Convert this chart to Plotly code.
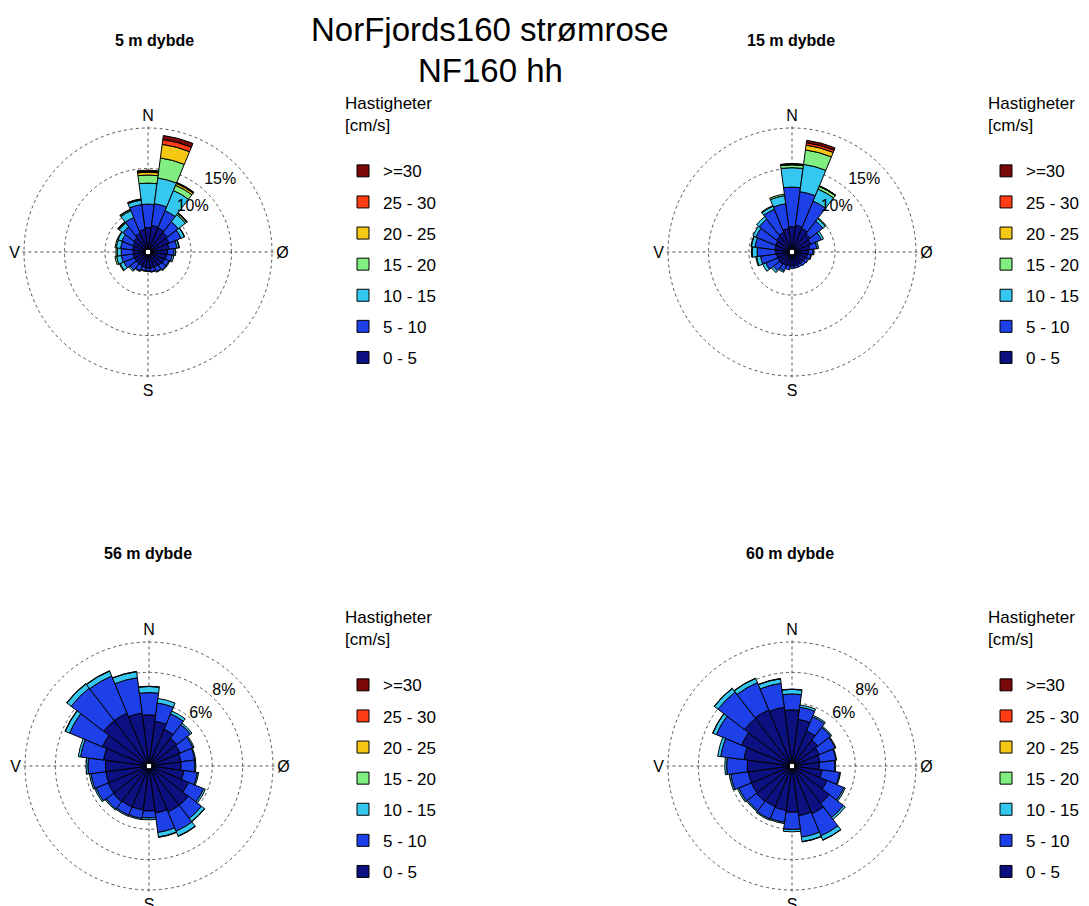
import plotly.graph_objects as go

# ---------------- data ----------------
directions = list(range(0, 360, 15))
speed_classes = ["0 - 5", "5 - 10", "10 - 15", "15 - 20", "20 - 25", "25 - 30", ">=30"]
class_colors = ["#0c1080", "#1e40e8", "#34c8f0", "#80ee80", "#f5c814", "#ff3c14", "#7a0808"]
dir_labels = ["N", "Ø", "S", "V"]
dir_label_angles = [0, 90, 180, 270]

# 5 m depth (percent per speed class and direction)
d05_0_5 = [2.7, 3.0, 2.9, 2.7, 2.5, 2.3, 2.1, 2.0, 1.9, 1.8, 1.7, 1.7, 1.7, 1.6, 1.5, 1.5, 1.5, 1.5, 1.5, 1.6, 1.7, 1.9, 2.2, 2.5]
d05_5_10 = [2.9, 2.7, 2.3, 1.7, 1.6, 1.0, 0.8, 0.7, 0.6, 0.7, 0.6, 0.45, 0.35, 0.4, 0.7, 1.0, 1.4, 1.5, 1.5, 1.5, 1.5, 1.7, 2.1, 3.1]
d05_10_15 = [2.6, 3.2, 2.7, 1.1, 0.45, 0.25, 0.2, 0.2, 0.1, 0.1, 0.1, 0.05, 0.05, 0.1, 0.1, 0.2, 0.5, 0.6, 0.5, 0.55, 0.5, 0.6, 0.9, 0.55]
d05_15_20 = [1.0, 2.5, 0.7, 0.2, 0.05, 0.05, 0, 0, 0, 0, 0, 0, 0, 0, 0, 0, 0.1, 0.2, 0.15, 0.15, 0.1, 0.1, 0.15, 0.1]
d05_20_25 = [0.35, 1.7, 0.25, 0.05, 0, 0, 0, 0, 0, 0, 0, 0, 0, 0, 0, 0, 0, 0, 0, 0, 0, 0.05, 0.05, 0.05]
d05_25_30 = [0.1, 0.6, 0.05, 0, 0, 0, 0, 0, 0, 0, 0, 0, 0, 0, 0, 0, 0, 0, 0, 0, 0, 0.05, 0, 0]
d05_30p = [0.15, 0.5, 0.1, 0.05, 0, 0, 0, 0, 0, 0, 0, 0, 0, 0, 0, 0, 0, 0, 0, 0, 0, 0, 0, 0]

# 15 m depth
d15_0_5 = [2.8, 3.0, 2.8, 2.5, 2.2, 1.9, 1.7, 1.6, 1.5, 1.4, 1.4, 1.4, 1.4, 1.4, 1.5, 1.6, 1.6, 1.6, 1.7, 1.8, 1.9, 2.1, 2.3, 2.6]
d15_5_10 = [4.9, 4.2, 3.7, 2.0, 1.4, 0.9, 0.6, 0.45, 0.4, 0.4, 0.3, 0.3, 0.3, 0.5, 0.7, 1.0, 1.6, 2.0, 2.3, 2.5, 2.6, 2.7, 3.1, 3.1]
d15_10_15 = [2.4, 3.4, 1.6, 0.4, 0.3, 0.2, 0.1, 0.05, 0, 0, 0, 0, 0, 0, 0.2, 0.3, 0.4, 0.5, 0.6, 0.45, 0.4, 0.4, 0.4, 1.0]
d15_15_20 = [0.35, 1.8, 0.35, 0.1, 0, 0, 0, 0, 0, 0, 0, 0, 0, 0, 0, 0, 0, 0.1, 0.1, 0.05, 0, 0, 0.1, 0.2]
d15_20_25 = [0.1, 0.6, 0.05, 0, 0, 0, 0, 0, 0, 0, 0, 0, 0, 0, 0, 0, 0, 0, 0, 0, 0, 0, 0, 0]
d15_25_30 = [0.03, 0.3, 0.02, 0, 0, 0, 0, 0, 0, 0, 0, 0, 0, 0, 0, 0, 0, 0, 0, 0, 0, 0, 0, 0]
d15_30p = [0.02, 0.3, 0.03, 0, 0, 0, 0, 0, 0, 0, 0, 0, 0, 0, 0, 0, 0, 0, 0, 0, 0, 0, 0, 0]

# 56 m depth
d56_0_5 = [3.2, 2.8, 2.45, 2.15, 2.05, 1.95, 1.95, 2.15, 2.65, 3.1, 3.1, 2.95, 2.8, 2.75, 2.75, 2.8, 2.75, 2.7, 2.7, 2.85, 3.15, 3.6, 3.6, 3.35]
d56_5_10 = [1.47, 1.22, 1.1, 1.13, 0.92, 0.92, 0.91, 0.9, 1.08, 1.09, 1.38, 1.3, 0.46, 0.57, 0.59, 0.6, 0.86, 0.99, 1.16, 1.53, 2.35, 2.7, 2.65, 2.35]
d56_10_15 = [0.4, 0.3, 0.2, 0.12, 0.08, 0.06, 0.06, 0.08, 0.12, 0.25, 0.35, 0.3, 0.12, 0.08, 0.08, 0.08, 0.1, 0.1, 0.12, 0.15, 0.3, 0.35, 0.35, 0.4]
d56_15_20 = [0.02, 0, 0, 0, 0, 0, 0, 0, 0, 0.02, 0.03, 0.03, 0, 0, 0, 0, 0, 0, 0, 0, 0.02, 0.03, 0.03, 0.02]
d56_20_25 = [0] * 24
d56_25_30 = [0] * 24
d56_30p = [0] * 24

# 60 m depth
d60_0_5 = [3.53, 2.93, 2.33, 1.98, 1.78, 1.68, 1.63, 1.83, 2.33, 2.93, 3.23, 3.13, 2.88, 2.78, 2.73, 2.78, 2.73, 2.73, 2.78, 3.03, 3.43, 3.78, 3.83, 3.73]
d60_5_10 = [1.05, 0.81, 1.02, 1.07, 1.13, 1.07, 1.03, 1.17, 1.2, 1.18, 1.58, 1.43, 1.14, 0.8, 0.89, 0.76, 0.89, 1.17, 1.36, 1.54, 1.8, 2.2, 1.95, 1.6]
d60_10_15 = [0.3, 0.15, 0.1, 0.08, 0.06, 0.05, 0.05, 0.06, 0.1, 0.15, 0.3, 0.3, 0.15, 0.08, 0.08, 0.08, 0.1, 0.1, 0.12, 0.2, 0.25, 0.3, 0.3, 0.3]
d60_15_20 = [0.02, 0, 0, 0, 0, 0, 0, 0, 0, 0, 0.02, 0.02, 0, 0, 0, 0, 0, 0, 0, 0, 0.02, 0.02, 0.02, 0.02]
d60_20_25 = [0] * 24
d60_25_30 = [0] * 24
d60_30p = [0] * 24

# ring values and their labels (percent)
rings_upper = [5, 10, 15]
rings_lower = [2, 4, 6, 8]
ring_labels_upper = ["15%", "10%"]
ring_label_r_upper = [12.3, 7.5]
ring_labels_lower = ["8%", "6%"]
ring_label_r_lower = [6.8, 4.65]

panel_titles = ["5 m dybde", "15 m dybde", "56 m dybde", "60 m dybde"]
main_title = ["NorFjords160 strømrose", "NF160 hh"]
legend_title = "Hastigheter<br>[cm/s]<br>\u00a0"

# ---------------- figure ----------------
FONT = "Liberation Sans, Arial, sans-serif"
W, H = 1089, 906

panels = [
    dict(key="polar", legend="legend", data=[d05_0_5, d05_5_10, d05_10_15, d05_15_20, d05_20_25, d05_25_30, d05_30p],
         rings=rings_upper, rmax=15, lab=ring_labels_upper, labr=ring_label_r_upper, cx=148, cy=252),
    dict(key="polar2", legend="legend2", data=[d15_0_5, d15_5_10, d15_10_15, d15_15_20, d15_20_25, d15_25_30, d15_30p],
         rings=rings_upper, rmax=15, lab=ring_labels_upper, labr=ring_label_r_upper, cx=792, cy=252),
    dict(key="polar3", legend="legend3", data=[d56_0_5, d56_5_10, d56_10_15, d56_15_20, d56_20_25, d56_25_30, d56_30p],
         rings=rings_lower, rmax=8, lab=ring_labels_lower, labr=ring_label_r_lower, cx=149, cy=766),
    dict(key="polar4", legend="legend4", data=[d60_0_5, d60_5_10, d60_10_15, d60_15_20, d60_20_25, d60_25_30, d60_30p],
         rings=rings_lower, rmax=8, lab=ring_labels_lower, labr=ring_label_r_lower, cx=792, cy=766),
]

fig = go.Figure()
HOLE = 0.02
EXTRA = 1.03            # radial range slightly beyond outer ring so the ring is drawn dotted
RING_PX = 124           # pixel radius of the outer ring
R_PX = RING_PX / (HOLE + (1 - HOLE) / EXTRA)

for p_i, p in enumerate(panels):
    sub = p["key"]
    for c_i, (name, col, vals) in enumerate(zip(speed_classes, class_colors, p["data"])):
        fig.add_trace(go.Barpolar(
            r=[v if v > 0 else None for v in vals],
            theta=directions,
            width=[15] * len(directions),
            name=name,
            marker=dict(color=col, line=dict(color="black", width=1)),
            subplot=sub,
            legend=p["legend"],
            legendgroup=f"{sub}_{c_i}",
            legendrank=100 + (len(speed_classes) - c_i),
            hoverinfo="skip",
        ))
    fig.add_trace(go.Scatterpolar(
        r=p["labr"], theta=[45, 45], mode="text", text=p["lab"],
        textfont=dict(family=FONT, size=16, color="black"),
        subplot=sub, showlegend=False, hoverinfo="skip",
    ))

    cx, cy = p["cx"], p["cy"]
    polar_layout = dict(
        domain=dict(x=[(cx - R_PX) / W, (cx + R_PX) / W],
                    y=[(H - cy - R_PX) / H, (H - cy + R_PX) / H]),
        bgcolor="white",
        hole=HOLE,
        barmode="stack",
        radialaxis=dict(range=[0, p["rmax"] * EXTRA], tickvals=p["rings"], showticklabels=False,
                        ticks="", showline=False, showgrid=True, gridcolor="#555555",
                        griddash="dot", gridwidth=1),
        angularaxis=dict(rotation=90, direction="clockwise", tickmode="array",
                         tickvals=dir_label_angles, ticktext=dir_labels, ticks="",
                         showline=False, showgrid=True, gridcolor="#555555", griddash="dot",
                         tickfont=dict(family=FONT, size=16, color="black")),
    )
    fig.layout[sub] = polar_layout

leg_common = dict(
    title=dict(text=legend_title, font=dict(family=FONT, size=17, color="black")),
    font=dict(family=FONT, size=17, color="black"),
    traceorder="grouped",
    tracegroupgap=6,
    bgcolor="rgba(0,0,0,0)",
    xanchor="left", yanchor="top",
)
fig.update_layout(
    legend=dict(leg_common, x=343 / W, y=1 - 87 / H),
    legend2=dict(leg_common, x=986 / W, y=1 - 87 / H),
    legend3=dict(leg_common, x=343 / W, y=1 - 601 / H),
    legend4=dict(leg_common, x=986 / W, y=1 - 601 / H),
)

annos = []
title_pos = [(154, 40), (791, 40), (148, 553), (790, 553)]
for t, (x, y) in zip(panel_titles, title_pos):
    annos.append(dict(text=f"<b>{t}</b>", x=x / W, y=1 - y / H, xref="paper", yref="paper",
                      xanchor="center", yanchor="middle",
                      showarrow=False, font=dict(family=FONT, size=16, color="black")))
annos.append(dict(text=main_title[0], x=490 / W, y=1 - 29 / H, xref="paper", yref="paper",
                  xanchor="center", yanchor="middle",
                  showarrow=False, font=dict(family=FONT, size=33, color="black")))
annos.append(dict(text=main_title[1], x=490 / W, y=1 - 71 / H, xref="paper", yref="paper",
                  xanchor="center", yanchor="middle",
                  showarrow=False, font=dict(family=FONT, size=33, color="black")))

fig.update_layout(
    width=W, height=H,
    margin=dict(l=0, r=0, t=0, b=0),
    paper_bgcolor="white",
    plot_bgcolor="white",
    annotations=annos,
    font=dict(family=FONT, color="black"),
)

fig.write_html("out.html")
